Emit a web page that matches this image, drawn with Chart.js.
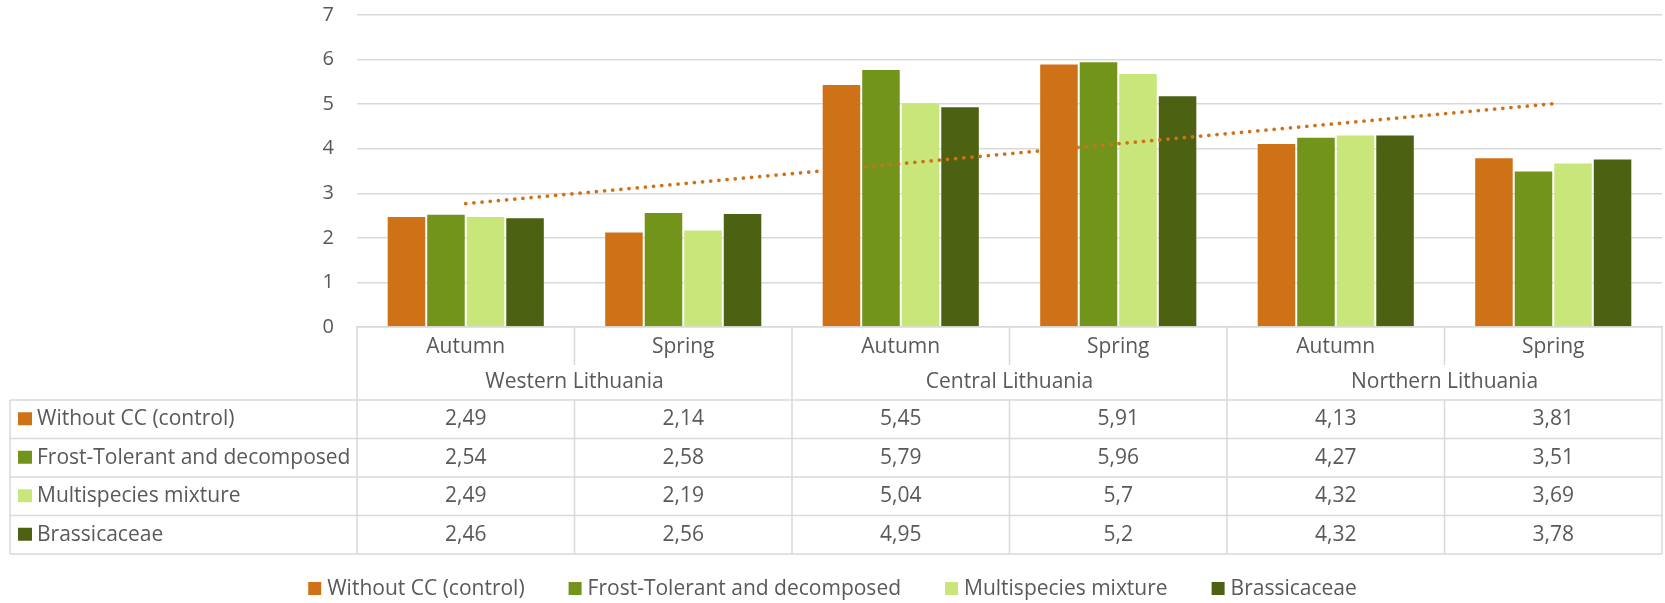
<!DOCTYPE html>
<html>
<head>
<meta charset="utf-8">
<script src="https://cdn.jsdelivr.net/npm/chart.js@4/dist/chart.umd.min.js"></script>
<style>
  html, body { margin: 0; padding: 0; background: #fff; }
  #wrap { width: 1665px; height: 603px; }
</style>
</head>
<body>
<div id="wrap"><canvas id="barChart"></canvas></div>
<script>
// Data ---------------------------------------------------------------------
const seasons = ['Autumn', 'Spring', 'Autumn', 'Spring', 'Autumn', 'Spring'];
const regions = ['Western Lithuania', 'Central Lithuania', 'Northern Lithuania'];
const seriesNames = ['Without CC (control)', 'Frost-Tolerant and decomposed', 'Multispecies mixture', 'Brassicaceae'];
const withoutCC = [2.49, 2.14, 5.45, 5.91, 4.13, 3.81];
const frostTolerant = [2.54, 2.58, 5.79, 5.96, 4.27, 3.51];
const multispecies = [2.49, 2.19, 5.04, 5.7, 4.32, 3.69];
const brassicaceae = [2.46, 2.56, 4.95, 5.2, 4.32, 3.78];
// dotted trend line at first and last category
const trendLine = [2.77, null, null, null, null, 5.01];
const yTicks = [0, 1, 2, 3, 4, 5, 6, 7];

const colors = ['#CF7217', '#73941A', '#C8E67A', '#4C6112'];
const textColor = '#595959';
const lineColor = '#D9D9D9';
const fontFamily = '"Open Sans", sans-serif';
const fontSize = 21;

const seriesValues = [withoutCC, frostTolerant, multispecies, brassicaceae];

// number with decimal comma, as in the source table
function fmt(v) {
    return String(v).replace('.', ',');
}

// Data table under the plot ---------------------------------------------------
const dataTablePlugin = {
    id: 'dataTable',
    afterDraw(chart) {
        const { ctx, chartArea, scales: { x } } = chart;
        const tableLeft = 10;
        const right = chartArea.right;
        const plotLeft = chartArea.left;
        const catW = (right - plotLeft) / seasons.length;
        const rows = [chartArea.bottom, 365, 400, 438.5, 477, 515.5, 554];
        const last = rows[rows.length - 1];

        ctx.save();
        ctx.strokeStyle = lineColor;
        ctx.lineWidth = 1.5;
        ctx.beginPath();
        // horizontal lines
        for (let r = 2; r < rows.length; r++) {
            ctx.moveTo(tableLeft, rows[r]);
            ctx.lineTo(right, rows[r]);
        }
        // verticals: region borders run full height, season splits skip the region row
        for (let i = 0; i <= seasons.length; i++) {
            const px = plotLeft + i * catW;
            if (i % 2 === 0) {
                ctx.moveTo(px, rows[0]);
                ctx.lineTo(px, last);
            } else {
                ctx.moveTo(px, rows[0]);
                ctx.lineTo(px, rows[1]);
                ctx.moveTo(px, rows[2]);
                ctx.lineTo(px, last);
            }
        }
        ctx.moveTo(tableLeft, rows[2]);
        ctx.lineTo(tableLeft, last);
        ctx.stroke();

        ctx.fillStyle = textColor;
        ctx.font = fontSize + 'px ' + fontFamily;
        ctx.textBaseline = 'middle';
        ctx.textAlign = 'center';
        seasons.forEach((s, i) => {
            ctx.fillText(s, x.getPixelForValue(i), (rows[0] + rows[1]) / 2 + 1);
        });
        regions.forEach((r, i) => {
            ctx.fillText(r, plotLeft + (i * 2 + 1) * catW, (rows[1] + rows[2]) / 2);
        });
        seriesValues.forEach((vals, s) => {
            const cy = (rows[s + 2] + rows[s + 3]) / 2;
            vals.forEach((v, i) => {
                ctx.fillText(fmt(v), x.getPixelForValue(i), cy);
            });
        });
        ctx.textAlign = 'left';
        seriesNames.forEach((name, s) => {
            const cy = (rows[s + 2] + rows[s + 3]) / 2;
            ctx.fillStyle = colors[s];
            ctx.fillRect(18, cy - 7, 14, 13);
            ctx.fillStyle = textColor;
            ctx.fillText(name, 37, cy);
        });

        // legend row at the bottom
        const gap = 6, box = 13, itemGap = 44;
        const widths = seriesNames.map(n => box + gap + ctx.measureText(n).width);
        const total = widths.reduce((a, b) => a + b, 0) + itemGap * (widths.length - 1);
        let lx = (chart.width - total) / 2;
        const ly = 589;
        seriesNames.forEach((name, s) => {
            ctx.fillStyle = colors[s];
            ctx.fillRect(lx, ly - 7, box, box);
            ctx.fillStyle = textColor;
            ctx.fillText(name, lx + box + gap, ly);
            lx += widths[s] + itemGap;
        });
        ctx.restore();
    }
};

// Bar chart -----------------------------------------------------------------
const barCtx = document.getElementById('barChart').getContext('2d');
const barDatasets = seriesNames.map((name, s) => ({
    type: 'bar',
    label: name,
    data: seriesValues[s],
    backgroundColor: colors[s],
    borderColor: 'rgba(255,255,255,0.35)',
    borderWidth: 1,
    categoryPercentage: 0.727,
    barPercentage: 1,
    // orange bars sit over the trend line, green ones under it
    order: s === 0 ? 0 : 2
}));

new Chart(barCtx, {
    data: {
        labels: seasons,
        datasets: [
            ...barDatasets,
            {
                type: 'line',
                label: 'Trend',
                data: trendLine,
                spanGaps: true,
                borderColor: colors[0],
                borderWidth: 3.8,
                borderDash: [0, 8.2],
                borderCapStyle: 'round',
                pointRadius: 0,
                fill: false,
                order: 1
            }
        ]
    },
    options: {
        responsive: true,
        maintainAspectRatio: false,
        animation: false,
        layout: { padding: 0 },
        plugins: {
            legend: { display: false },
            tooltip: { enabled: false }
        },
        scales: {
            x: {
                offset: true,
                ticks: { display: false },
                grid: { display: false },
                border: { display: true, color: lineColor, width: 1.5 },
                afterFit(scale) {
                    scale.height = 603 - 327;
                    scale.paddingLeft = 0;
                    scale.paddingRight = 3;
                }
            },
            y: {
                min: 0,
                max: 7,
                afterBuildTicks(scale) { scale.ticks = yTicks.map(v => ({ value: v })); },
                ticks: {
                    color: textColor,
                    padding: 23,
                    font: { family: fontFamily, size: 20 }
                },
                grid: { color: lineColor, lineWidth: 1.5, drawTicks: false },
                border: { display: false },
                afterFit(scale) {
                    scale.width = 357;
                    scale.paddingTop = 15;
                    scale.paddingBottom = 0;
                }
            }
        }
    },
    plugins: [dataTablePlugin]
});
</script>
</body>
</html>
